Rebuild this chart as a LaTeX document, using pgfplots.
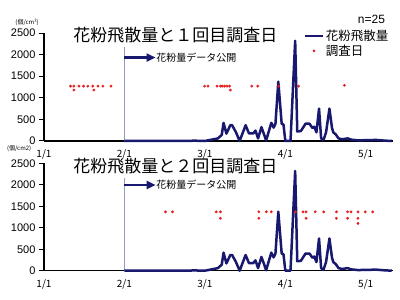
\documentclass[border=0pt]{standalone}
\usepackage{fontspec}
\setmainfont{Liberation Sans}
\newfontfamily\jp{Noto Sans CJK JP}
\usepackage{pgfplots}
\usepackage{pgfplotstable}
\pgfplotsset{compat=1.18}
\usetikzlibrary{arrows.meta}
\definecolor{navy}{RGB}{24,24,110}
\definecolor{dotred}{RGB}{230,30,30}
\definecolor{vline}{RGB}{150,150,200}

\pgfplotstableread{
x y
31 0
56 0
58 10
60 0
62 0
64.5 30
67 60
68.5 140
69.2 420
70.3 170
71.8 365
72.5 365
74 200
75.4 0
77.7 365
79 175
80.6 175
81.5 240
82.5 60
83.8 320
85 120
85.6 10
87.6 420
88.5 310
89.2 400
90.3 1373
91.6 400
92.3 380
93 0
95 0
96.8 2320
97.6 220
99 230
100.8 400
102.3 400
103.5 300
104.2 330
105 200
106 750
106.8 60
107.7 20
108.7 200
110 750
111 300
111.5 200
112.5 150
113.5 60
115 40
117 60
118.5 30
121 15
125 20
128 25
131 10
134 0
}\pollen

\pgfplotstableread{
x y
10.2 1270
11.5 1270
13.5 1270
15.2 1270
16.9 1270
18.8 1270
20.8 1270
22.7 1270
25.8 1270
61.9 1270
63.2 1270
66.7 1270
68 1270
68.7 1270
69.6 1270
70.5 1270
71.5 1270
80.1 1270
82.4 1270
90.5 1270
98.1 1270
115.8 1290
11.5 1180
19.2 1180
71.8 1180
}\surveyA

\pgfplotstableread{
x y
46.8 1370
49.5 1370
66.4 1370
68 1370
82.8 1370
85.7 1370
87.6 1370
96.9 1370
99.8 1370
101 1370
104.5 1370
107.8 1370
112.7 1370
117 1370
118.3 1370
121 1370
123.8 1370
126.7 1370
68 1220
82.8 1220
101 1220
112.7 1220
117 1220
121 1220
121 1100
}\surveyB

\pgfplotsset{
  pollenaxis/.style={
    scale only axis, width=349pt,
    xmin=0, xmax=134.5, ymin=0, ymax=2500,
    axis x line=bottom, axis y line=left,
    axis line style={-, line width=1.4pt, black},
    xtick={0,31,62,93,124},
    xticklabels={1/1,2/1,3/1,4/1,5/1},
    x tick style={draw=none},
    ytick={0,500,...,2500},
    y tick style={line width=1pt, black},
    tick align=outside, major tick length=5pt,
    yticklabel style={font=\fontsize{11}{11}\selectfont},
    xticklabel style={font=\jp\fontsize{10}{10}\selectfont},
    /pgf/number format/assume math mode=true,
    /pgf/number format/set thousands separator={},
    clip=false,
  }
}

\begin{document}
\begin{tikzpicture}
\useasboundingbox (0,0) rectangle (400pt,300pt);

% top chart
\begin{axis}[pollenaxis, height=108pt, at={(44pt,159pt)}, anchor=south west,
  legend style={draw=none, fill=none, at={(rel axis cs:0.745,1.05)}, anchor=north west,
    font=\jp\fontsize{12.5}{13}\selectfont, row sep=-1pt, inner sep=0pt},
  legend cell align=left]
\draw[vline, line width=1pt] (axis cs:31,0) -- (axis cs:31,2172);
\addplot[navy, line width=2.5pt, line join=round] table {\pollen};
\addlegendentry{花粉飛散量}
\addplot[only marks, mark=*, mark size=1.2pt, dotred, draw=none] table {\surveyA};
\addlegendentry{調査日}
\draw[navy, line width=2.2pt, -{Triangle[length=9pt,width=8pt]}] (axis cs:31,1932) -- (axis cs:43,1932);
\node[anchor=west, font=\jp\fontsize{10}{10}\selectfont, inner sep=0.5pt] at (axis cs:43,1932) {花粉量データ公開};
\node[font=\jp\fontsize{17}{17}\selectfont] at (axis cs:50.6,2444) {花粉飛散量と１回目調査日};
\node[font=\fontsize{12}{12}\selectfont] at (axis cs:126.2,2817) {n=25};
\node[font=\jp\fontsize{6}{6}\selectfont] at (axis cs:-6.5,2747) {(個/cm²)};
\end{axis}

% bottom chart
\begin{axis}[pollenaxis, height=107.4pt, at={(44pt,29.3pt)}, anchor=south west]
\draw[vline, line width=1pt] (axis cs:31,0) -- (axis cs:31,2158);
\addplot[navy, line width=2.5pt, line join=round] table {\pollen};
\addplot[only marks, mark=*, mark size=1.2pt, dotred, draw=none] table {\surveyB};
\draw[navy, line width=2.2pt, -{Triangle[length=9pt,width=8pt]}] (axis cs:31,1995) -- (axis cs:43,1995);
\node[anchor=west, font=\jp\fontsize{10}{10}\selectfont, inner sep=0.5pt] at (axis cs:43,1995) {花粉量データ公開};
\node[font=\jp\fontsize{17}{17}\selectfont] at (axis cs:50.6,2437) {花粉飛散量と２回目調査日};
\node[font=\jp\fontsize{6}{6}\selectfont] at (axis cs:-9.6,2833) {(個/cm2)};
\end{axis}
\end{tikzpicture}
\end{document}
